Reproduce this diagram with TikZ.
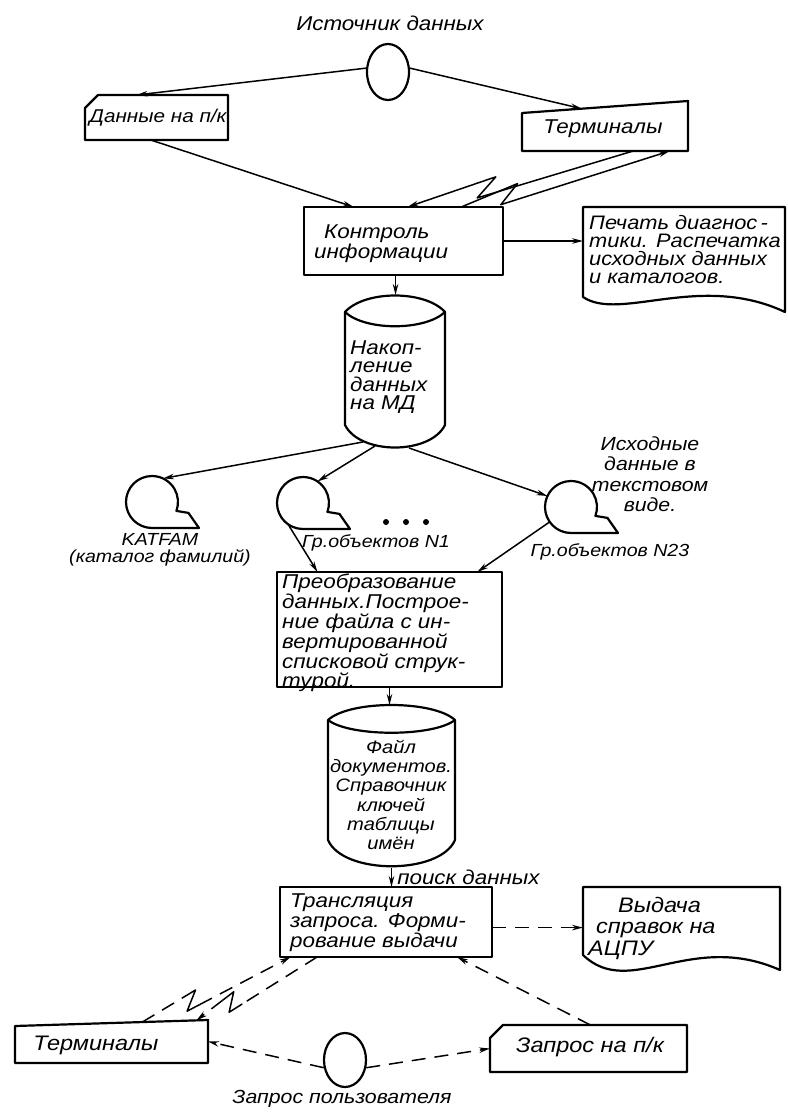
\documentclass[tikz,border=0pt]{standalone}
\usepackage{fontspec}
\newfontfamily\gost{Liberation Sans}[FakeStretch=1.12]
\usetikzlibrary{arrows.meta,calc,shapes.geometric}
\begin{document}
\begin{tikzpicture}[x=1pt,y=-1pt,
  shp/.style={line width=2.2pt, line join=round},
  ln/.style={line width=1.5pt, line join=round},
  dln/.style={ln, dash pattern=on 14pt off 9pt},
  con/.style={ln, -{Stealth[length=11pt,width=5.5pt]}},
  dcon/.style={con, dash pattern=on 14pt off 9pt},
  txt/.style={font=\gost\itshape\fontsize{20pt}{18.5pt}\selectfont, inner sep=0pt, align=left},
  ghost/.style={inner sep=0pt, outer sep=0pt},
  oval/.style={draw, shp, ellipse, inner sep=0pt, minimum width=42pt, minimum height=56pt},
  blk/.style={draw, shp, inner sep=0pt, outer sep=0pt}
]
\useasboundingbox (0,0) rectangle (787,1113);

% ---------- source
\node[txt] (srcT) at (390,23) {Источник данных};
\node[oval] (src) at (388,72) {};

% ---------- card1 (punched card)
\draw[shp] (85,108) -- (98,95) -- (228,95) -- (228,140) -- (85,140) -- cycle;
\node[ghost, minimum width=143pt, minimum height=45pt] (card1) at (156.5,117.5) {};
\node[txt, font=\gost\itshape\fontsize{18.5pt}{18pt}\selectfont] (card1T) at (158,118) {Данные на п/к};

% ---------- terminals (top)
\coordinate (t1tl) at (522,113);
\coordinate (t1tr) at (688,101);
\draw[shp] (t1tl) -- (t1tr) -- (688,151) -- (522,151) -- cycle;
\node[ghost, minimum width=166pt, minimum height=50pt] (term1) at (605,126) {};
\node[txt] (term1T) at (603,129) {Терминалы};

% ---------- control
\node[blk, minimum width=199pt, minimum height=68pt] (ctrl) at (403.5,241) {};
\node[txt, anchor=west] (ctrlT) at (314,244) {\hspace*{10pt}Контроль\\информации};

% ---------- document 1
\draw[shp] (583,207) -- (785,207) -- (785,312) .. controls (700,272) and (620,322) .. (583,297) -- cycle;
\node[ghost, minimum width=202pt, minimum height=105pt] (doc1) at (684,259.5) {};
\node[txt, anchor=west, font=\gost\itshape\fontsize{19.5pt}{18pt}\selectfont] (doc1T) at (589,250) {Печать диагнос\,-\\тики. Распечатка\\исходных данных\\и каталогов.};

% ---------- disk 1
\draw[shp] (345,312) .. controls (365,290) and (425,290) .. (445,312) -- (445,425) .. controls (430,455) and (360,455) .. (345,425) -- cycle;
\draw[shp] (345,312) .. controls (365,331) and (425,331) .. (445,312);
\node[ghost, minimum width=100pt, minimum height=155pt] (cyl1) at (395,372.5) {};
\node[txt, anchor=west] (cyl1T) at (350,377) {Накоп-\\ление\\данных\\на МД};

% ---------- note
\node[txt, align=center, font=\gost\itshape\fontsize{19pt}{20.5pt}\selectfont] (note) at (650,474) {Исходные\\данные в\\текстовом\\виде.};

% ---------- tapes
\node[ghost, circle, minimum size=52pt] (tape1) at (152,502) {};
\draw[shp] (152,528) arc[start angle=90, end angle=380, radius=26] -- ++(12,2) -- (199,528) -- cycle;
\node[ghost, circle, minimum size=52pt] (tape2) at (303,503) {};
\draw[shp] (303,529) arc[start angle=90, end angle=380, radius=26] -- ++(12,2) -- (350,529) -- cycle;
\node[ghost, circle, minimum size=52pt] (tape3) at (571,507) {};
\draw[shp] (571,533) arc[start angle=90, end angle=380, radius=26] -- ++(12,2) -- (618,533) -- cycle;

\node[txt, align=center, font=\gost\itshape\fontsize{17.5pt}{17.5pt}\selectfont] (tape1L) at (160,550) {KATFAM\\(каталог фамилий)};
\node[txt, font=\gost\itshape\fontsize{17.5pt}{17pt}\selectfont] (tape2L) at (376,543) {Гр.объектов N1};
\node[txt, font=\gost\itshape\fontsize{17.5pt}{17pt}\selectfont] (tape3L) at (610,552) {Гр.объектов N23};
\fill (386,522) circle[radius=3pt] (406,522) circle[radius=3pt] (426,522) circle[radius=3pt];

% ---------- conversion
\node[blk, minimum width=225pt, minimum height=115pt] (conv) at (389.5,629.5) {};
\node[txt, anchor=west, font=\gost\itshape\fontsize{20pt}{17.7pt}\selectfont] (convT) at (282,633) {Преобразование\\данных.Построе-\\ние файла с ин-\\вертированной\\списковой струк-\\турой.};

% ---------- disk 2
\draw[shp] (328,720) .. controls (350,700) and (433,700) .. (455,720) -- (455,840) .. controls (440,875) and (343,875) .. (328,840) -- cycle;
\draw[shp] (328,720) .. controls (350,737) and (433,737) .. (455,720);
\node[ghost, minimum width=127pt, minimum height=163pt] (cyl2) at (391.5,786.5) {};
\node[txt, align=center, font=\gost\itshape\fontsize{18pt}{19.2pt}\selectfont] (cyl2T) at (391,795) {Файл\\документов.\\Справочник\\ключей\\таблицы\\имён};

% ---------- translation
\node[blk, minimum width=212pt, minimum height=70pt] (trans) at (386,922) {};
\node[txt, anchor=west, font=\gost\itshape\fontsize{20pt}{20pt}\selectfont] (transT) at (290,923) {Трансляция\\запроса. Форми-\\рование выдачи};

% ---------- document 2
\draw[shp] (583,887) -- (780,887) -- (780,970) .. controls (690,930) and (630,1000) .. (583,955) -- cycle;
\node[ghost, minimum width=197pt, minimum height=83pt] (doc2) at (681.5,928.5) {};
\node[txt, anchor=west, font=\gost\itshape\fontsize{21pt}{21.5pt}\selectfont] (doc2T) at (588,928) {\hspace*{30pt}Выдача\\\hspace*{8pt}справок на\\АЦПУ};

% ---------- terminals (bottom)
\coordinate (t2tl) at (15,1026);
\coordinate (t2tr) at (208,1020);
\draw[shp] (t2tl) -- (t2tr) -- (208,1063) -- (15,1063) -- cycle;
\node[ghost, minimum width=193pt, minimum height=43pt] (term2) at (111.5,1041.5) {};
\node[txt, font=\gost\itshape\fontsize{21pt}{18pt}\selectfont] (term2T) at (96,1045) {Терминалы};

% ---------- card2
\draw[shp] (490,1038) -- (503,1025) -- (687,1025) -- (687,1072) -- (490,1072) -- cycle;
\node[ghost, minimum width=197pt, minimum height=47pt] (card2) at (588.5,1048.5) {};
\node[txt, font=\gost\itshape\fontsize{21pt}{18pt}\selectfont] (card2T) at (590,1047) {Запрос на п/к};

% ---------- user
\node[oval, minimum width=42pt, minimum height=54pt] (usr) at (345,1060) {};
\node[txt, font=\gost\itshape\fontsize{19pt}{18pt}\selectfont] (usrT) at (342,1099) {Запрос пользователя};

% ================= connectors
\draw[con] (src.170) -- ($(card1.north west)!0.36!(card1.north east)$);
\draw[con] (src.10) -- ($(t1tl)!0.36!(t1tr)$);
\draw[con] ($(card1.south west)!0.46!(card1.south east)$) -- ($(ctrl.north west)!0.25!(ctrl.north east)$);

% communication line term1 -> ctrl
\coordinate (l1s) at ($(t1tl |- term1.south)!0.67!(t1tr |- term1.south)$);
\coordinate (l1e) at ($(ctrl.north west)!0.52!(ctrl.north east)$);
\coordinate (l1a) at ($(l1s)!0.70!(l1e)!8pt!90:(l1e)$);
\coordinate (l1b) at ($(l1s)!0.60!(l1e)!8pt!-90:(l1e)$);
\draw[con] (l1s) -- (l1a) -- (l1b) -- (l1e);

% communication line ctrl -> term1
\coordinate (l2s) at ($(ctrl.north west)!0.79!(ctrl.north east)$);
\coordinate (l2e) at ($(t1tl |- term1.south)!0.89!(t1tr |- term1.south)$);
\coordinate (l2a) at ($(l2s)!0.28!(l2e)!8pt!90:(l2e)$);
\coordinate (l2b) at ($(l2s)!0.18!(l2e)!8pt!-90:(l2e)$);
\draw[con] (l2s) -- (l2a) -- (l2b) -- (l2e);

\draw[con] (ctrl.east) -- (ctrl.east -| doc1.west);
\coordinate (c1) at ($(ctrl.south west)!0.46!(ctrl.south east)$);
\draw[con] (c1) -- (c1 |- cyl1.north);

\draw[con] ($(cyl1.south)+(-32,-8)$) -- (tape1.65);
\draw[con] ($(cyl1.south)+(-20,-4)$) -- (tape2.56);
\draw[con] ($(cyl1.south)+(14,-2)$) -- (tape3.155);

\draw[con] (tape2.235) -- ($(conv.north west)!0.18!(conv.north east)$);
\draw[con] (tape3.215) -- ($(conv.north west)!0.89!(conv.north east)$);

\draw[con] (conv.south) -- (conv.south |- cyl2.north);
\draw[con] (cyl2.south) -- node[txt, anchor=west, xshift=5pt] (srch) {поиск данных} (cyl2.south |- trans.north);

\coordinate (tr1) at ($(trans.north east)!0.58!(trans.south east)$);
\draw[dcon] (tr1) -- (tr1 -| doc2.west);

% communication line term2 -> trans (dashed)
\coordinate (l3s) at ($(t2tl)!0.66!(t2tr)$);
\coordinate (l3e) at ($(trans.south west)!0.05!(trans.south east)$);
\coordinate (l3a) at ($(l3s)!0.38!(l3e)!8pt!90:(l3e)$);
\coordinate (l3b) at ($(l3s)!0.28!(l3e)!8pt!-90:(l3e)$);
\coordinate (l3p) at ($(l3s)!0.8!(l3a)$);
\coordinate (l3q) at ($(l3b)!0.12!(l3e)$);
\draw[dln] (l3s) -- (l3p);
\draw[ln] (l3p) -- (l3a) -- (l3b) -- (l3q);
\draw[dcon] (l3q) -- (l3e);

% communication line trans -> term2 (dashed)
\coordinate (l4s) at ($(trans.south west)!0.175!(trans.south east)$);
\coordinate (l4e) at ($(t2tl)!0.94!(t2tr)$);
\coordinate (l4a) at ($(l4s)!0.76!(l4e)!8pt!90:(l4e)$);
\coordinate (l4b) at ($(l4s)!0.66!(l4e)!8pt!-90:(l4e)$);
\coordinate (l4p) at ($(l4s)!0.85!(l4a)$);
\coordinate (l4q) at ($(l4b)!0.3!(l4e)$);
\draw[dln] (l4s) -- (l4p);
\draw[ln] (l4p) -- (l4a) -- (l4b) -- (l4q);
\draw[dcon] (l4q) -- (l4e);

\draw[dcon] (usr.200) -- (term2.east);
\draw[dcon] (usr.-20) -- (card2.west);
\draw[dcon] ($(card2.north west)!0.51!(card2.north east)$) -- ($(trans.south west)!0.835!(trans.south east)$);
\end{tikzpicture}
\end{document}
